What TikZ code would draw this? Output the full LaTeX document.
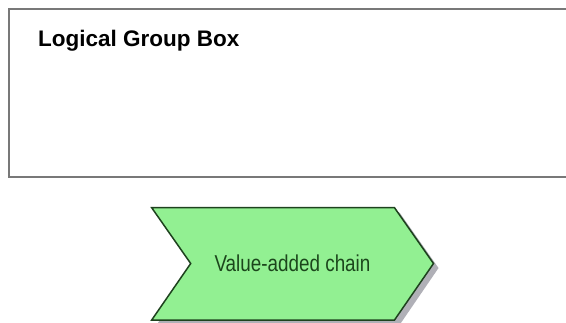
\documentclass[tikz,border=0pt]{standalone}
\usepackage{fontspec}
\setmainfont{Liberation Sans}
\definecolor{boxgray}{RGB}{120,120,120}
\definecolor{chevfill}{RGB}{146,240,146}
\definecolor{chevline}{RGB}{30,66,30}
\definecolor{chevtext}{RGB}{28,70,28}
\definecolor{shadowgray}{RGB}{150,150,160}
\begin{document}
\begin{tikzpicture}[x=1bp,y=-1bp,
  groupbox/.style={draw=boxgray,line width=1.6bp,fill=white},
  grouptitle/.style={anchor=base west,inner sep=0pt,font=\fontsize{22.5bp}{26bp}\selectfont\bfseries,text=black},
  chevshape/.style={draw=chevline,line width=1.5bp,fill=chevfill,line join=miter},
  chevshadow/.style={fill=shadowgray,opacity=0.75},
  chevlabel/.style={anchor=base,inner sep=0pt,font=\fontsize{23bp}{26bp}\selectfont,text=chevtext,xscale=0.82}]
\useasboundingbox (0,0) rectangle (566,322);
\fill[white] (0,0) rectangle (566,322);
% logical group box
\draw[groupbox] (9,9) rectangle (580,177);
\node[grouptitle] (title) at (38,46.5) {Logical Group Box};
% value-added chain
\fill[chevshadow] (156.5,212.5) -- (399.5,212.5) -- (438.5,268) -- (399.5,325) -- (156.5,325) -- (195.5,268) -- cycle;
\draw[chevshape] (151.7,207.7) -- (394.5,207.7) -- (433.5,263.5) -- (394.5,320) -- (151.7,320) -- (190.7,263.5) -- cycle;
\node[chevlabel] (vac) at (292.5,271.7) {Value-added chain};
\end{tikzpicture}
\end{document}
